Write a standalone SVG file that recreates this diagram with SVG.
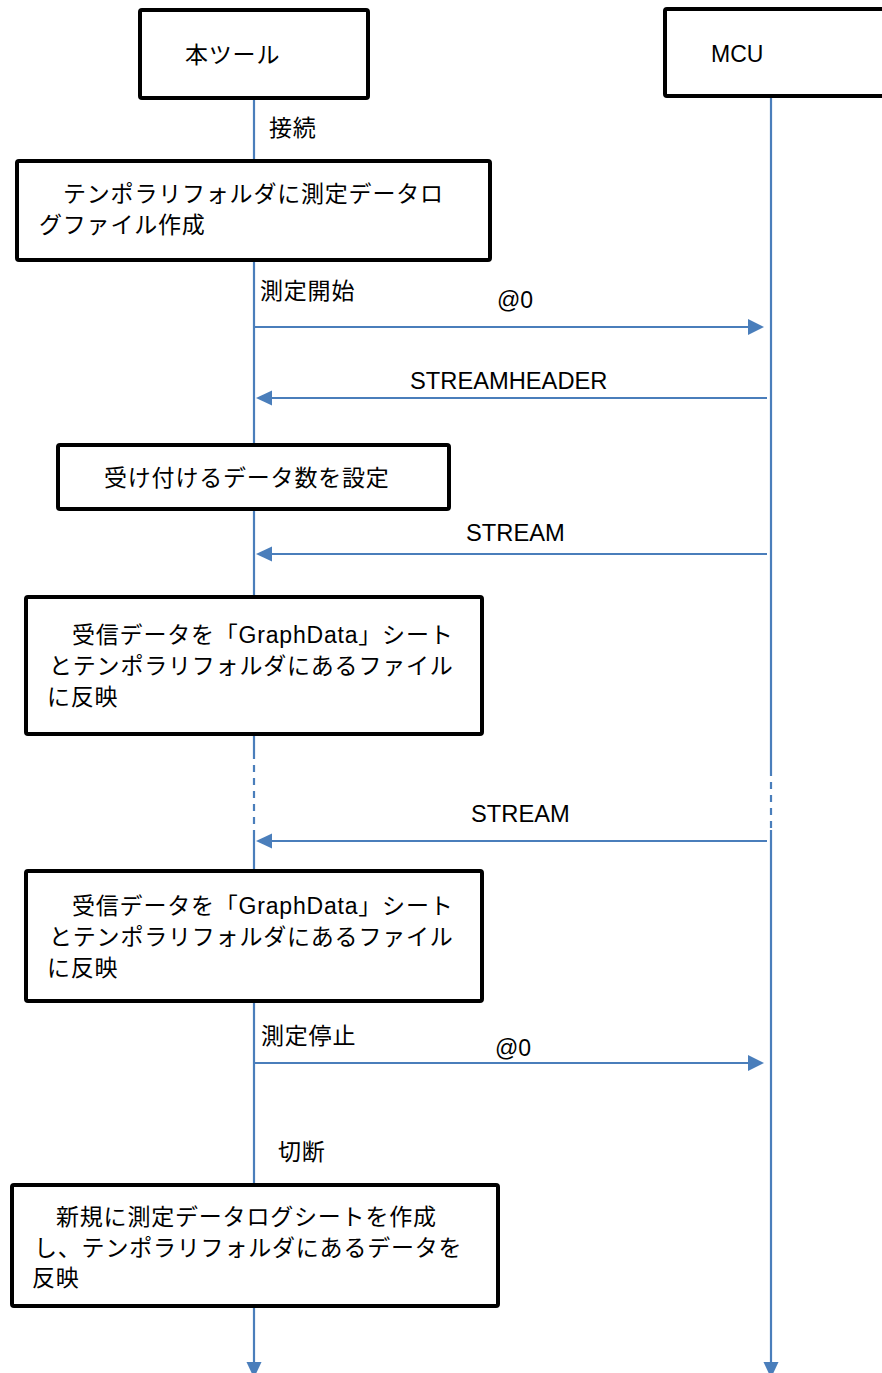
<svg xmlns="http://www.w3.org/2000/svg" width="882" height="1373" viewBox="0 0 882 1373">
<style>
.bg{fill:#ffffff}
.node{fill:#ffffff;stroke:#000000;stroke-width:4}
.life{stroke:#4A7EBB;stroke-width:2.2;fill:none}
.dash{stroke:#4A7EBB;stroke-width:2.2;fill:none;stroke-dasharray:7 6}
.msg{stroke:#4A7EBB;stroke-width:2.2;fill:none}
.head{fill:#4A7EBB}
text{font-family:"Liberation Sans","Noto Sans CJK JP",sans-serif;font-size:23px;fill:#000000}
.jp{letter-spacing:0.8px}
.lbl{font-size:23.7px}
</style>
<rect class="bg" x="0" y="0" width="882" height="1373"/>
<g id="connectors">
<path class="life" d="M254 100 V752 M254 830 V1364"/>
<path class="dash" d="M254 752 V830"/>
<path class="life" d="M771 98 V769 M771 830 V1364"/>
<path class="dash" d="M771 769 V830"/>
<polygon class="head" points="246.5,1362 261.5,1362 254,1378"/>
<polygon class="head" points="763.5,1362 778.5,1362 771,1378"/>
<line class="msg" x1="254" y1="327" x2="750" y2="327"/>
<polygon class="head" points="748,319 764,327 748,335"/>
<line class="msg" x1="767" y1="398" x2="270" y2="398"/>
<polygon class="head" points="272,390.5 256,398 272,405.5"/>
<line class="msg" x1="767" y1="554" x2="270" y2="554"/>
<polygon class="head" points="272,546.5 256,554 272,561.5"/>
<line class="msg" x1="767" y1="841" x2="270" y2="841"/>
<polygon class="head" points="272,833.5 256,841 272,848.5"/>
<line class="msg" x1="254" y1="1063" x2="750" y2="1063"/>
<polygon class="head" points="748,1055 764,1063 748,1071"/>
<text x="269" y="136" class="jp">接続</text>
<text x="260" y="299" class="jp">測定開始</text>
<text x="497" y="308">@0</text>
<text x="410" y="389" class="lbl">STREAMHEADER</text>
<text x="466" y="541" class="lbl">STREAM</text>
<text x="471" y="822" class="lbl">STREAM</text>
<text x="261" y="1044" class="jp">測定停止</text>
<text x="495" y="1056">@0</text>
<text x="278" y="1160" class="jp">切断</text>
</g>
<g id="tool">
<rect class="node" x="140" y="10" width="228" height="88" rx="2"/>
<text x="185" y="63" class="jp">本ツール</text>
</g>
<g id="mcu">
<rect class="node" x="665" y="9" width="240" height="87" rx="2"/>
<text x="711" y="62">MCU</text>
</g>
<g id="create-temp">
<rect class="node" x="17" y="161" width="473" height="99" rx="2"/>
<text x="63" y="202" class="jp">テンポラリフォルダに測定データロ</text>
<text x="39" y="233" class="jp">グファイル作成</text>
</g>
<g id="set-count">
<rect class="node" x="58" y="445" width="391" height="64" rx="2"/>
<text x="104" y="486" class="jp">受け付けるデータ数を設定</text>
</g>
<g id="reflect1">
<rect class="node" x="26" y="597" width="456" height="137" rx="2"/>
<text x="72" y="643" class="jp">受信データを「GraphData」シート</text>
<text x="49" y="674" class="jp">とテンポラリフォルダにあるファイル</text>
<text x="47" y="705" class="jp">に反映</text>
</g>
<g id="reflect2">
<rect class="node" x="26" y="871" width="456" height="130" rx="2"/>
<text x="72" y="914" class="jp">受信データを「GraphData」シート</text>
<text x="49" y="945" class="jp">とテンポラリフォルダにあるファイル</text>
<text x="47" y="976" class="jp">に反映</text>
</g>
<g id="new-sheet">
<rect class="node" x="12" y="1185" width="486" height="121" rx="2"/>
<text x="56" y="1225" class="jp">新規に測定データログシートを作成</text>
<text x="34" y="1256" class="jp">し、テンポラリフォルダにあるデータを</text>
<text x="32" y="1286" class="jp">反映</text>
</g>
</svg>
